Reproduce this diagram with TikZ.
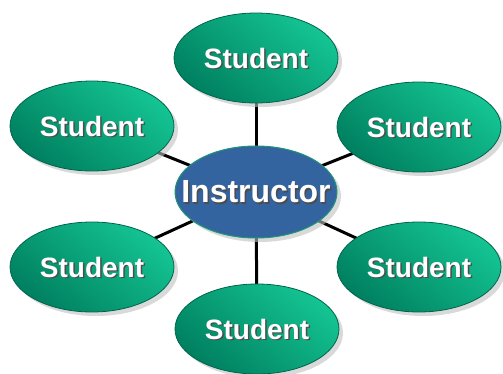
\documentclass[tikz,border=0pt]{standalone}
\usepackage{fontspec}
\setmainfont{Liberation Sans}
\usetikzlibrary{shapes.geometric,shadows}
\definecolor{gLight}{RGB}{20,196,146}
\definecolor{gDark}{RGB}{0,128,96}
\definecolor{gEdge}{RGB}{0,100,76}
\definecolor{bFill}{RGB}{52,100,160}
\definecolor{bEdge}{RGB}{30,150,120}
\tikzset{
  stud/.style={ellipse, minimum width=164pt, minimum height=90pt, inner sep=0pt,
    draw=gEdge, line width=0.8pt, top color=gLight, bottom color=gDark, shading angle=-40,
    drop shadow={shadow xshift=4pt, shadow yshift=-4pt, fill=black!25, opacity=0.6}},
  inst/.style={ellipse, minimum width=162pt, minimum height=92pt, inner sep=0pt,
    draw=bEdge, line width=1pt, fill=bFill,
    drop shadow={shadow xshift=4pt, shadow yshift=-4pt, fill=black!25, opacity=0.6}},
  link/.style={line width=3pt, black},
  lbl/.style={text=white, font=\bfseries\fontsize{28}{30}\selectfont},
  lblsh/.style={text=black!70, font=\bfseries\fontsize{28}{30}\selectfont},
}
\newcommand{\shtext}[2]{\node[lblsh, xshift=1.5pt, yshift=-1.5pt] at (#1) {#2};\node[lbl] at (#1) {#2};}
\begin{document}
\begin{tikzpicture}[x=1pt,y=-1pt]
\useasboundingbox (0,0) rectangle (503,374);
\coordinate (cI) at (256,192);
\coordinate (cT) at (256,58);
\coordinate (cLU) at (92,126);
\coordinate (cRU) at (419,127);
\coordinate (cLL) at (92,267);
\coordinate (cRL) at (419,267);
\coordinate (cB) at (257,329);
\foreach \c in {cT,cLU,cRU,cLL,cRL,cB} \draw[link] (cI) -- (\c);
\node[stud] (sT) at (cT) {};
\node[stud] (sLU) at (cLU) {};
\node[stud] (sRU) at (cRU) {};
\node[stud] (sLL) at (cLL) {};
\node[stud] (sRL) at (cRL) {};
\node[stud] (sB) at (cB) {};
\node[inst] (I) at (cI) {};
\foreach \c in {cT,cLU,cRU,cLL,cRL,cB} {\shtext{\c}{Student}}
\node[lblsh, font=\bfseries\fontsize{32}{34}\selectfont, xshift=1.5pt, yshift=-1.5pt] at (cI) {Instructor};
\node[lbl, font=\bfseries\fontsize{32}{34}\selectfont] at (cI) {Instructor};
\end{tikzpicture}
\end{document}
